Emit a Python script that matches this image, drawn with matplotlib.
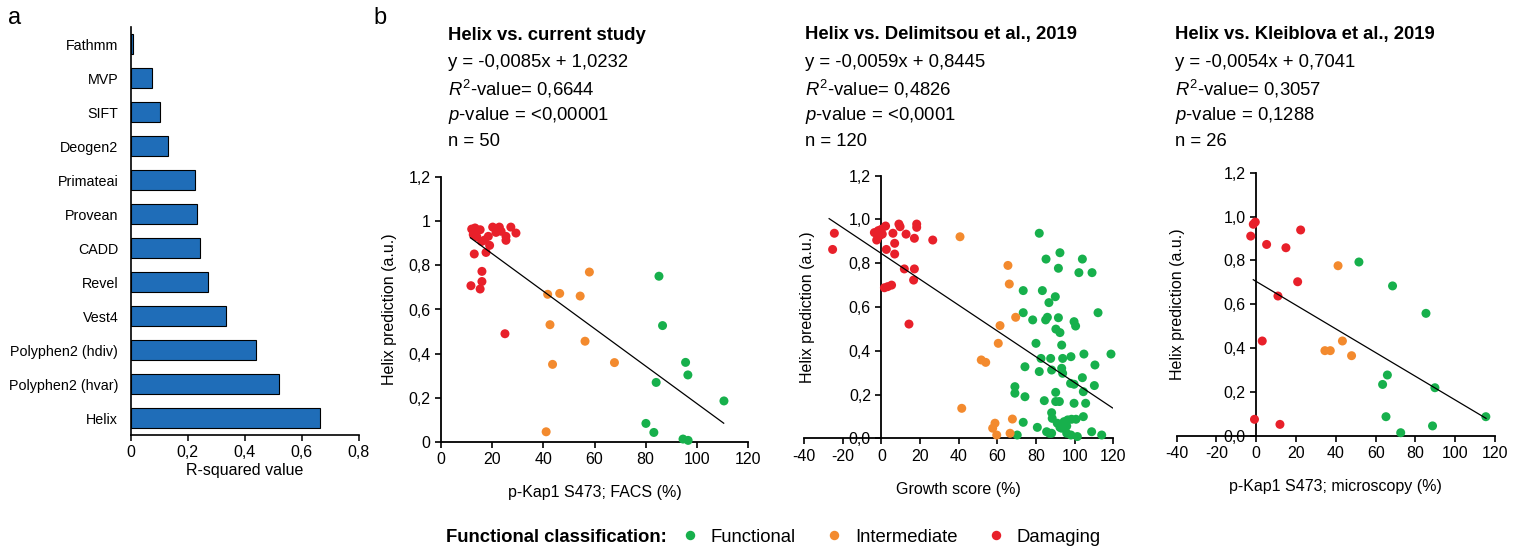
import matplotlib
matplotlib.use("Agg")
import matplotlib.pyplot as plt
from matplotlib.ticker import FixedLocator, FixedFormatter
from matplotlib.lines import Line2D
import numpy as np

plt.rcParams['font.family'] = ['Liberation Sans', 'DejaVu Sans']
plt.rcParams['mathtext.fontset'] = 'custom'
plt.rcParams['mathtext.rm'] = 'Liberation Sans'
plt.rcParams['mathtext.it'] = 'Liberation Sans:italic'
plt.rcParams['mathtext.bf'] = 'Liberation Sans:bold'

# ---------------- data ----------------
tools = ["Fathmm", "MVP", "SIFT", "Deogen2", "Primateai", "Provean", "CADD",
         "Revel", "Vest4", "Polyphen2 (hdiv)", "Polyphen2 (hvar)", "Helix"]
r_squared = [0.007, 0.076, 0.103, 0.132, 0.225, 0.231, 0.243, 0.270, 0.334,
             0.439, 0.520, 0.6644]
bar_xticks = [0, 0.2, 0.4, 0.6, 0.8]
bar_xticklabels = ["0", "0,2", "0,4", "0,6", "0,8"]

# Panel 1: Helix vs current study
p1_dam_x = [12.0, 13.3, 15.3, 12.6, 20.2, 22.8, 27.3, 29.3, 21.5, 18.5, 25.4, 25.4,
            15.9, 19.0, 17.6, 13.0, 16.0, 16.0, 11.7, 15.3, 25.0, 14.0, 23.5, 17.0]
p1_dam_y = [0.965, 0.970, 0.962, 0.940, 0.974, 0.974, 0.974, 0.947, 0.950, 0.932, 0.932, 0.914,
            0.909, 0.891, 0.859, 0.852, 0.773, 0.727, 0.708, 0.693, 0.490, 0.930, 0.955, 0.915]
p1_int_x = [41.7, 46.4, 54.4, 58.0, 42.6, 43.6, 56.3, 67.8, 41.1]
p1_int_y = [0.669, 0.673, 0.661, 0.770, 0.531, 0.351, 0.456, 0.359, 0.045]
p1_fun_x = [85.2, 86.6, 95.6, 96.5, 84.1, 110.6, 80.1, 83.2, 94.6, 96.6]
p1_fun_y = [0.751, 0.527, 0.360, 0.303, 0.269, 0.185, 0.083, 0.042, 0.012, 0.006]

# Panel 2: Helix vs Delimitsou et al., 2019
p2_dam_x = [-24.3, -25.2, -3.6, -1.6, -2.4, 0.5, 2.2, 2.6, 6.0, 6.9, 6.9, 9.1, 9.7, 12.8,
            17.1, 18.3, 18.3, 26.6, 11.9, 17.1, 16.7, 1.6, 3.3, 5.3, 14.3, -1.0, 0.0]
p2_dam_y = [0.937, 0.863, 0.940, 0.949, 0.906, 0.933, 0.970, 0.863, 0.937, 0.891, 0.842, 0.979,
            0.967, 0.933, 0.914, 0.979, 0.964, 0.906, 0.774, 0.774, 0.723, 0.688, 0.693, 0.700,
            0.522, 0.925, 0.955]
p2_int_x = [40.7, 65.5, 66.2, 69.5, 61.4, 60.5, 51.7, 54.0, 41.6, 58.8, 57.6, 59.7, 67.8, 66.6]
p2_int_y = [0.921, 0.790, 0.705, 0.553, 0.515, 0.434, 0.358, 0.347, 0.137, 0.069, 0.046,
            0.015, 0.088, 0.023]
p2_fun_x = [81.7, 92.4, 85.2, 104.0, 91.6, 102.2, 109.0, 73.4, 83.3, 90.0, 86.7, 73.4, 112.1,
            78.3, 85.0, 85.9, 91.6, 99.7, 100.5, 90.3, 92.4, 80.0, 93.3, 118.8, 104.8, 82.6,
            87.6, 93.8, 98.1, 74.3, 81.7, 88.1, 93.3, 93.8, 110.5, 104.0, 97.9, 69.1, 69.1,
            74.3, 90.2, 99.7, 110.2, 104.5, 84.3, 90.2, 92.1, 99.7, 105.7, 88.1, 88.4, 73.4,
            80.7, 91.0, 92.4, 94.5, 96.4, 98.4, 100.7, 104.5, 93.3, 95.9, 85.5, 88.1, 95.9,
            98.1, 101.4, 108.8, 114.0, 70.3, 86.9]
p2_fun_y = [0.937, 0.848, 0.819, 0.819, 0.777, 0.757, 0.757, 0.675, 0.675, 0.647, 0.620, 0.574,
            0.574, 0.541, 0.541, 0.553, 0.551, 0.533, 0.513, 0.499, 0.483, 0.434, 0.426, 0.385,
            0.385, 0.365, 0.365, 0.365, 0.373, 0.327, 0.305, 0.312, 0.320, 0.297, 0.335, 0.277,
            0.251, 0.236, 0.206, 0.190, 0.210, 0.247, 0.241, 0.213, 0.172, 0.168, 0.168, 0.160,
            0.160, 0.117, 0.091, 0.073, 0.050, 0.069, 0.050, 0.076, 0.084, 0.087, 0.087, 0.099,
            0.046, 0.056, 0.030, 0.023, 0.023, 0.015, 0.008, 0.030, 0.015, 0.015, 0.023]

# Panel 3: Helix vs Kleiblova et al., 2019
p3_dam_x = [-1.5, -0.5, -2.8, 5.2, 14.9, 22.3, 20.8, 10.9, 3.0, -0.9, 11.9]
p3_dam_y = [0.965, 0.975, 0.911, 0.873, 0.858, 0.939, 0.703, 0.638, 0.433, 0.076, 0.053]
p3_int_x = [41.1, 43.3, 34.5, 37.2, 47.9]
p3_int_y = [0.776, 0.433, 0.389, 0.389, 0.366]
p3_fun_x = [51.6, 68.5, 85.3, 65.9, 63.5, 89.8, 65.2, 88.6, 72.6, 115.4]
p3_fun_y = [0.793, 0.684, 0.559, 0.278, 0.235, 0.220, 0.088, 0.046, 0.015, 0.088]

slopes = [-0.0085, -0.0059, -0.0054]
intercepts = [1.0232, 0.8445, 0.7041]
fit_ranges = [(11.5, 110.5), (-27.0, 119.6), (-1.5, 115.5)]

titles = ["Helix vs. current study", "Helix vs. Delimitsou et al., 2019",
          "Helix vs. Kleiblova et al., 2019"]
equations = ["y = -0,0085x + 1,0232", "y = -0,0059x + 0,8445", "y = -0,0054x + 0,7041"]
r2_texts = ["0,6644", "0,4826", "0,3057"]
p_texts = ["<0,00001", "<0,0001", "0,1288"]
n_texts = ["50", "120", "26"]
xlabels = ["p-Kap1 S473; FACS (%)", "Growth score (%)", "p-Kap1 S473; microscopy (%)"]

yticks = [0, 0.2, 0.4, 0.6, 0.8, 1.0, 1.2]
yticklabels_p1 = ["0", "0,2", "0,4", "0,6", "0,8", "1", "1,2"]
yticklabels_p23 = ["0,0", "0,2", "0,4", "0,6", "0,8", "1,0", "1,2"]
xticks_p1 = [0, 20, 40, 60, 80, 100, 120]
xticks_p23 = [-40, -20, 0, 20, 40, 60, 80, 100, 120]

categories = ["Functional", "Intermediate", "Damaging"]
c_fun = "#17b04c"
c_int = "#f38a2e"
c_dam = "#e8202a"
c_bar = "#1f6db8"

# ---------------- figure ----------------
W, H = 1521, 553
fig = plt.figure(figsize=(W / 100, H / 100), dpi=100)

def fx(px):
    return px / W

def fy(py):
    return 1 - py / H

# Panel a
axa = fig.add_axes([fx(130.7), fy(435), fx(359) - fx(130.7), fy(27) - fy(435)])
ypos = np.arange(len(tools))
axa.barh(ypos, r_squared, height=0.56, color=c_bar, edgecolor="black", linewidth=0.8)
axa.set_ylim(len(tools) - 0.5, -0.5)
axa.set_xlim(0, 0.8)
axa.set_yticks(ypos)
axa.set_yticklabels(tools, fontsize=10.3)
axa.xaxis.set_major_locator(FixedLocator(bar_xticks))
axa.xaxis.set_major_formatter(FixedFormatter(bar_xticklabels))
axa.tick_params(axis="y", length=0, pad=9)
axa.tick_params(axis="x", direction="out", length=4, width=1.1, labelsize=11.5, pad=3)
axa.spines["top"].set_visible(False)
axa.spines["right"].set_visible(False)
for s in ["left", "bottom"]:
    axa.spines[s].set_linewidth(1.2)
axa.set_xlabel("R-squared value", fontsize=11.5, labelpad=2)

fig.text(fx(15), fy(18), "a", fontsize=17, ha="center", va="center")
fig.text(fx(380), fy(18), "b", fontsize=17, ha="center", va="center")

# Scatter panels
panel_boxes = [
    (441.0, 748.0, 441.7, 177.3),
    (804.0, 1113.3, 438.3, 175.7),
    (1176.7, 1495.0, 436.0, 172.7),
]
text_x = [447.7, 805.0, 1175.0]
ylabel_x = [-0.143, 0.036, 0.026]
data = [
    (p1_fun_x, p1_fun_y, p1_int_x, p1_int_y, p1_dam_x, p1_dam_y),
    (p2_fun_x, p2_fun_y, p2_int_x, p2_int_y, p2_dam_x, p2_dam_y),
    (p3_fun_x, p3_fun_y, p3_int_x, p3_int_y, p3_dam_x, p3_dam_y),
]

for i in range(3):
    x0, x1, y0, y1 = panel_boxes[i]
    ax = fig.add_axes([fx(x0), fy(y0), fx(x1) - fx(x0), fy(y1) - fy(y0)])
    fxs, fys, ixs, iys, dxs, dys = data[i]
    for xs, ys, c in [(fxs, fys, c_fun), (ixs, iys, c_int), (dxs, dys, c_dam)]:
        ax.scatter(xs, ys, s=42, color=c, edgecolors="none", zorder=3, clip_on=False)
    lx = np.array(fit_ranges[i])
    ax.plot(lx, slopes[i] * lx + intercepts[i], color="black", lw=0.9, zorder=4)
    ax.set_ylim(0, 1.2)
    if i == 0:
        ax.set_xlim(0, 120)
        ax.xaxis.set_major_locator(FixedLocator(xticks_p1))
        ax.xaxis.set_major_formatter(FixedFormatter([str(v) for v in xticks_p1]))
    else:
        ax.set_xlim(-40, 120)
        ax.spines["left"].set_position(("data", 0))
        ax.xaxis.set_major_locator(FixedLocator(xticks_p23))
        ax.xaxis.set_major_formatter(FixedFormatter([str(v) for v in xticks_p23]))
    ax.yaxis.set_major_locator(FixedLocator(yticks))
    if i == 0:
        ax.yaxis.set_major_formatter(FixedFormatter(yticklabels_p1))
    else:
        ax.yaxis.set_major_formatter(FixedFormatter(yticklabels_p23))
    ax.spines["top"].set_visible(False)
    ax.spines["right"].set_visible(False)
    for s in ["left", "bottom"]:
        ax.spines[s].set_linewidth(1.3)
    ax.tick_params(direction="out", length=4.5, width=1.2, labelsize=11.5, pad=3)
    ax.set_xlabel(xlabels[i], fontsize=11.5, labelpad=13)
    ax.set_ylabel("Helix prediction (a.u.)", fontsize=11.5)
    ax.yaxis.set_label_coords(ylabel_x[i], 0.5)

    tx = fx(text_x[i])
    fig.text(tx, fy(35), titles[i], fontsize=13.3, fontweight="bold", va="center", ha="left")
    fig.text(tx, fy(62.5), equations[i], fontsize=13.3, va="center", ha="left")
    fig.text(tx, fy(89), r"$\mathit{R}^{2}$-value= " + r2_texts[i], fontsize=13.3,
             va="center", ha="left")
    fig.text(tx, fy(115), r"$\mathit{p}$-value = " + p_texts[i], fontsize=13.3,
             va="center", ha="left")
    fig.text(tx, fy(141.5), "n = " + n_texts[i], fontsize=13.3, va="center", ha="left")

# Legend
fig.text(fx(446), fy(537), "Functional classification:", fontsize=13.3, fontweight="bold",
         va="center", ha="left")
handles = [Line2D([], [], marker="o", linestyle="none", markersize=6.8, color=c,
                  markeredgewidth=0) for c in [c_fun, c_int, c_dam]]
fig.legend(handles, categories, loc="center left", bbox_to_anchor=(fx(681), fy(537)),
           ncol=3, frameon=False, fontsize=13.3, handlelength=1.0, handletextpad=0.6,
           columnspacing=1.6, borderpad=0, borderaxespad=0)

fig.savefig("out.png", dpi=100)
